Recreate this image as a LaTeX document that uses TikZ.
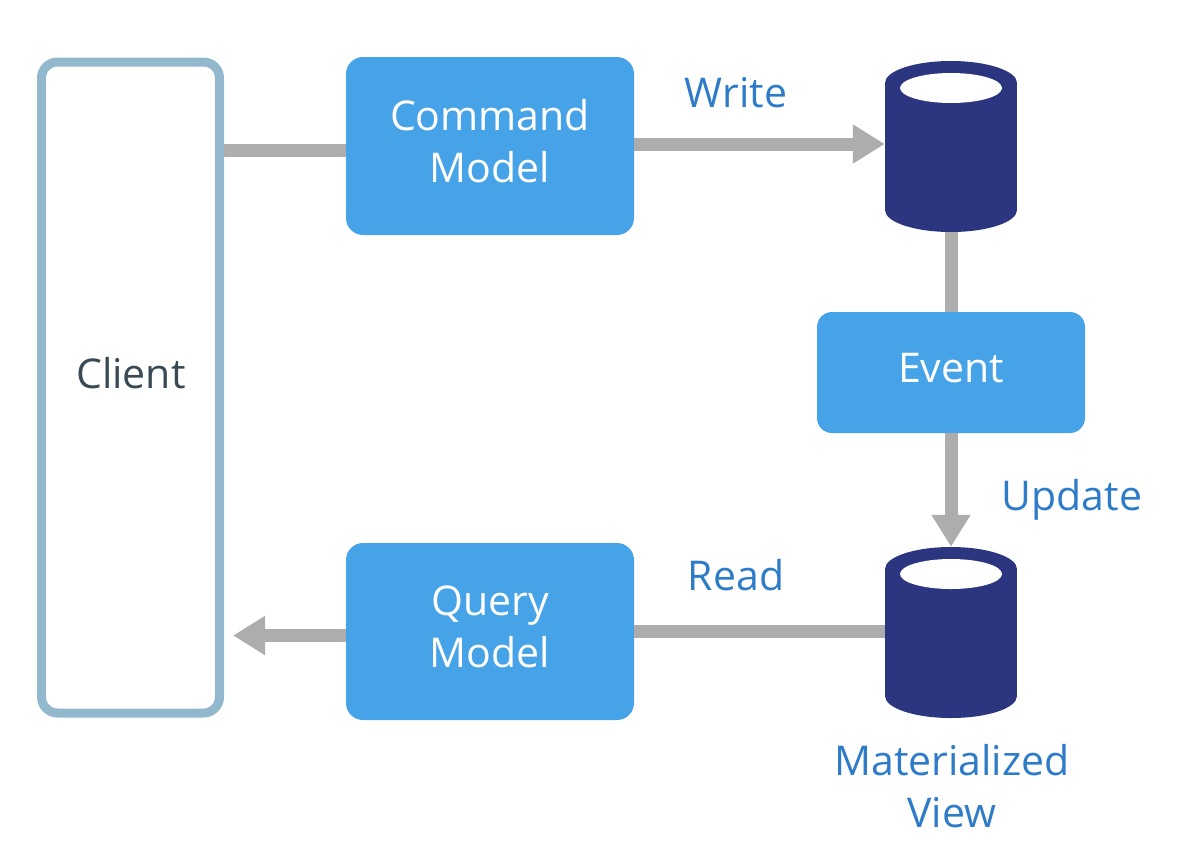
\documentclass[tikz,border=0pt]{standalone}
\usepackage{fontspec}
\setmainfont{Open Sans}
\usetikzlibrary{arrows.meta,positioning}
\definecolor{boxblue}{HTML}{46A3E8}
\definecolor{dbblue}{HTML}{2B3580}
\definecolor{clientedge}{HTML}{92B8CE}
\definecolor{arrowgray}{HTML}{ADADAD}
\definecolor{labelblue}{HTML}{2E7BC8}
\definecolor{clienttext}{HTML}{3A4A55}
\tikzset{
  x=1pt,y=1pt,
  bluebox/.style={fill=boxblue,draw=none,rounded corners=17pt,inner sep=0pt},
  boxtext/.style={text=white,font=\fontsize{41}{52}\selectfont,align=center,inner sep=0pt},
  clientbox/.style={draw=clientedge,line width=9pt,rounded corners=16pt,fill=white,inner sep=0pt},
  clienttxt/.style={text=clienttext,font=\fontsize{41}{52}\selectfont,inner sep=0pt},
  lbl/.style={text=labelblue,font=\fontsize{41}{52}\selectfont,align=center,inner sep=0pt},
  conn/.style={draw=arrowgray,line width=13pt},
  arr/.style={conn,-{Triangle[length=32pt,width=37pt]}},
  dbnode/.style={draw=none,inner sep=0pt,minimum width=132pt,minimum height=171pt}
}
\newcommand{\dbcyl}[3]{% center x, top y, bottom y (y negative)
  \fill[dbblue] (#1,#3+22) ellipse [x radius=66pt,y radius=22pt];
  \fill[dbblue] (#1-66,#3+22) rectangle (#1+66,#2-22);
  \fill[dbblue] (#1,#2-22) ellipse [x radius=66pt,y radius=22pt];
  \fill[white] (#1,#2-27) ellipse [x radius=51pt,y radius=15pt];
}
\begin{document}
\begin{tikzpicture}
\useasboundingbox (0,0) rectangle (1204,-844);
% client
\node[clientbox,minimum width=178pt,minimum height=651pt] (client) at (130.5,-387.5) {};
\node[clienttxt] (clienttext) at (131,-373) {Client};
% boxes
\node[bluebox,minimum width=288pt,minimum height=178pt] (cmd) at (490,-146) {};
\node[boxtext] (cmdtext) at (490,-141) {Command\\Model};
\node[bluebox,minimum width=288pt,minimum height=177pt] (qry) at (490,-631.5) {};
\node[boxtext] (qrytext) at (490,-627) {Query\\Model};
\node[bluebox,minimum width=268pt,minimum height=121pt,rounded corners=15pt] (event) at (951,-372.5) {};
\node[boxtext] (eventtext) at (951,-368) {Event};
% cylinders
\dbcyl{951}{-61}{-232}
\dbcyl{951}{-547}{-718}
\node[dbnode] (db1) at (951,-146.5) {};
\node[dbnode] (db2) at (951,-632.5) {};
% labels
\node[lbl] (lwrite) at (736,-93) {Write};
\node[lbl] (lread) at (736,-575) {Read};
\node[lbl] (lupdate) at (1072,-500) {Update};
\node[lbl] (lmat) at (952,-786) {Materialized\\View};
% connectors
\draw[conn] ([yshift=-4pt]cmd.west -| client.east) -- ([yshift=-4pt]cmd.west);
\draw[arr] ([yshift=2pt]cmd.east) -- ([yshift=2pt]cmd.east -| db1.west);
\draw[conn] (db1.south -| event.north) -- (event.north);
\draw[arr] (event.south) -- (event.south |- db2.north);
\draw[conn] (db2.west |- qry.east) -- (qry.east);
\draw[arr,shorten >=9pt] ([yshift=-4pt]qry.west) -- ([yshift=-4pt]qry.west -| client.east);
\end{tikzpicture}
\end{document}
